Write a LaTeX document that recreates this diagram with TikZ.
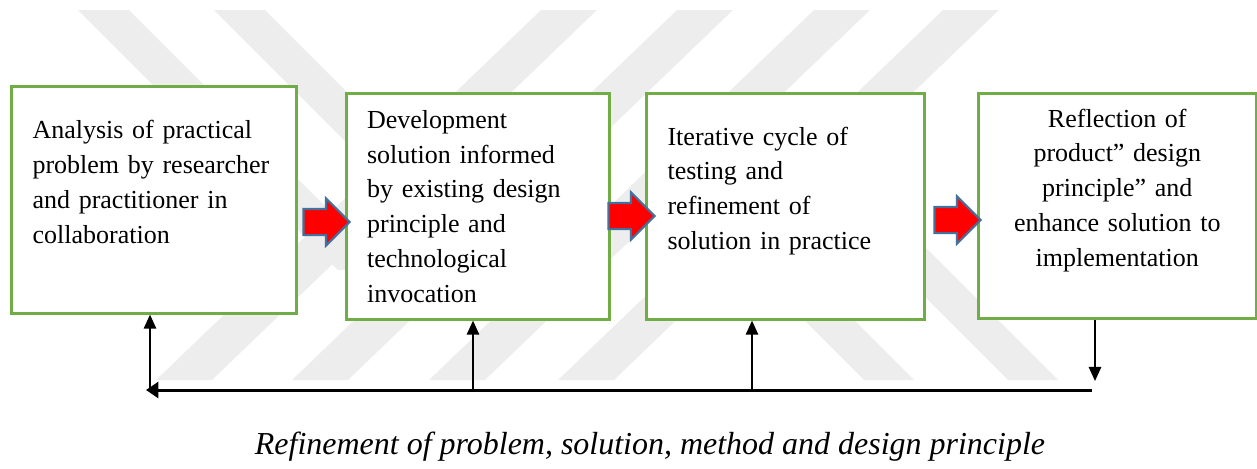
\documentclass[tikz,border=0pt]{standalone}
\usepackage{fontspec}
\setmainfont{Liberation Serif}
\usepackage{tikz}
\usetikzlibrary{shapes.arrows,arrows.meta,positioning,calc}
\usepackage{xcolor}
\definecolor{stagegreen}{HTML}{70AD47}
\definecolor{arrowblue}{HTML}{41719C}
\definecolor{wmark}{HTML}{EDEDED}

\begin{document}
\begin{tikzpicture}[x=0.02cm,y=-0.02cm,
  stage/.style={draw=stagegreen,line width=1.5pt,fill=white,anchor=north west,
                inner xsep=11pt,inner ysep=4pt,align=left,
                font=\fontsize{14.8}{19.8}\selectfont},
  push/.style={single arrow,draw=arrowblue,line width=1.2pt,fill=red,
               minimum height=0.92cm,minimum width=0.9cm,inner xsep=0pt,inner ysep=0.24cm,
               single arrow head extend=0.21cm},
  upline/.style={line width=1.1pt,-{Triangle[length=8pt,width=7pt]}},
  feedline/.style={line width=1.7pt,-{Triangle[length=7pt,width=9pt]}}]
\useasboundingbox (0,0) rectangle (1257,468);
\foreach \xb in {156,292,429,558}
  \fill[wmark] (\xb,380) -- ++(56,0) -- ++(385,-370) -- ++(-56,0) -- cycle;
\foreach \xt in {78,214}
  \fill[wmark] (\xt,10) -- ++(51,0) -- ++(260,260) -- ++(-51,0) -- cycle;
\foreach \xb in {864,1008}
  \fill[wmark] (\xb,380) -- ++(50,0) -- ++(-210,-210) -- ++(-50,0) -- cycle;

\node[stage,minimum width=5.70cm,minimum height=4.54cm,text width=138pt,text depth=80pt] (b1) at (10,85)
  {Analysis of practical\\problem by researcher\\and practitioner in\\collaboration};
\node[stage,minimum width=5.26cm,minimum height=4.52cm,text width=126pt] (b2) at (345,92)
  {Development\\solution informed\\by existing design\\principle and\\technological\\invocation};
\node[stage,minimum width=5.56cm,minimum height=4.52cm,text width=134pt,text depth=80pt] (b3) at (645,92)
  {Iterative cycle of\\testing and\\refinement of\\solution in practice};
\node[stage,minimum width=5.56cm,minimum height=4.50cm,text width=134pt,text depth=100pt,align=center] (b4) at (977,92)
  {Reflection of\\product'' design\\principle'' and\\enhance solution to\\implementation};

\node[push] (p1) at (320,222) {};
\node[push] (p2) at (625,216) {};
\node[push] (p3) at (951,220) {};

\coordinate (fbL) at (146,390);
\coordinate (fbR) at (1092,390);
\coordinate (fb1) at (150,390);
\coordinate (fb2) at (473,390);
\coordinate (fb3) at (752,390);
\coordinate (fb4) at (1095,381);
\draw[feedline] (fbR) -- (fbL);
\draw[upline] (fb1) -- (fb1 |- b1.south);
\draw[upline] (fb2) -- (fb2 |- b2.south);
\draw[upline] (fb3) -- (fb3 |- b3.south);
\draw[upline] (fb4 |- b4.south) -- (fb4);

\node[font=\fontsize{18.2}{22}\selectfont\itshape] (caption) at (650,447)
  {Refinement of problem, solution, method and design principle};
\end{tikzpicture}
\end{document}
